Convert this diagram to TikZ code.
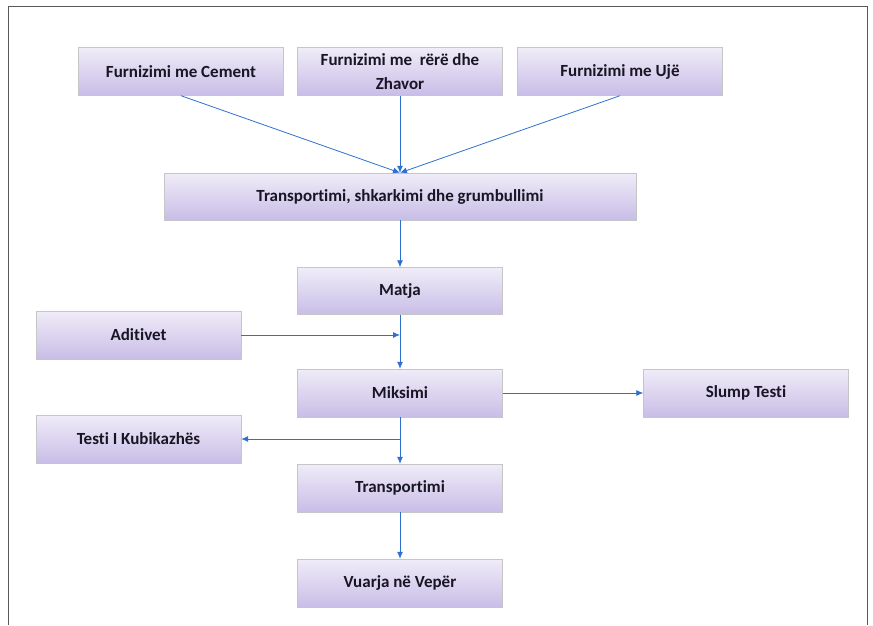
\documentclass[tikz,border=0pt]{standalone}
\usepackage{fontspec}
\setmainfont[Ligatures=NoCommon]{Carlito}
\usepackage{xcolor}
\usepackage{tikz}
\usetikzlibrary{arrows.meta}

\definecolor{boxtop}{RGB}{240,236,248}
\definecolor{boxbot}{RGB}{200,189,231}
\definecolor{arrowblue}{RGB}{46,112,208}
\definecolor{textdark}{RGB}{24,22,36}

\tikzset{
  stage/.style={draw=gray!45, rectangle, top color=boxtop, bottom color=boxbot,
    minimum width=205pt, minimum height=48pt, inner sep=2pt, align=center,
    text=textdark, font=\fontsize{17}{24}\selectfont\bfseries},
  flow/.style={-{Latex[length=7pt,width=6pt]}, arrowblue, line width=0.8pt}
}

\begin{document}
\begin{tikzpicture}[x=1pt, y=-1pt]
    \useasboundingbox (0,0) rectangle (873,625);
    % Frame
    \draw[gray!70!black, line width=1pt] (8,625) -- (8,6) -- (867,6) -- (867,625);

    % Nodes
    \node[stage] (cement) at (181,71.5) {Furnizimi me Cement};
    \node[stage] (rere) at (400,71.5) {Furnizimi me\ \ rërë dhe\\Zhavor};
    \node[stage] (uje) at (620,71.5) {Furnizimi me Ujë};
    \node[stage, minimum width=472pt, minimum height=47pt] (transp) at (400,196.5) {Transportimi, shkarkimi dhe grumbullimi};
    \node[stage, minimum height=47pt] (matja) at (400,291) {Matja};
    \node[stage] (aditivet) at (138.5,335) {Aditivet};
    \node[stage] (miksimi) at (400,393) {Miksimi};
    \node[stage] (slump) at (746,393) {Slump Testi};
    \node[stage] (kubik) at (138.5,439) {Testi I Kubikazhës};
    \node[stage] (transp2) at (400,488) {Transportimi};
    \node[stage] (vuarja) at (400,583) {Vuarja në Vepër};

    % Junctions
    \coordinate (j1) at (matja.south |- aditivet.east);
    \coordinate (j2) at (miksimi.south |- kubik.east);

    % Edges
    \draw[flow] (cement.south) -- (transp.north);
    \draw[flow] (rere.south) -- (transp.north);
    \draw[flow] (uje.south) -- (transp.north);
    \draw[flow] (transp.south) -- (matja.north);
    \draw[flow] (matja.south) -- (miksimi.north);
    \draw[flow] (aditivet.east) -- (j1);
    \draw[flow] (miksimi.east) -- (slump.west);
    \draw[flow] (miksimi.south) -- (transp2.north);
    \draw[flow] (j2) -- (kubik.east);
    \draw[flow] (transp2.south) -- (vuarja.north);
\end{tikzpicture}
\end{document}
